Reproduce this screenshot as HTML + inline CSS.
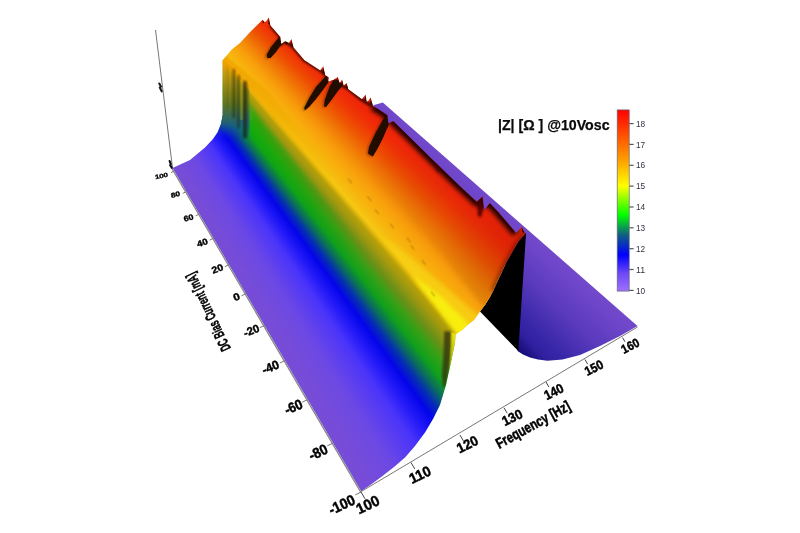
<!DOCTYPE html><html><head><meta charset="utf-8"><title>Impedance surface</title><style>html,body{margin:0;padding:0;background:#fff}#plot{position:relative;width:800px;height:533px;overflow:hidden;background:#fff}#plot>svg,#plot>.fan{position:absolute;left:0;top:0;width:800px;height:533px;display:block}</style></head><body><div id="plot"><svg width="800" height="533" viewBox="0 0 800 533">
<defs><linearGradient id="floorR" gradientUnits="userSpaceOnUse" x1="600" y1="250" x2="515" y2="355"><stop offset="0" stop-color="#7349cb"/><stop offset="0.55" stop-color="#6a44c6"/><stop offset="0.85" stop-color="#4a30b8"/><stop offset="1" stop-color="#2a1c9c"/></linearGradient></defs>
<rect width="800" height="533" fill="#fff"/>
</svg>
<div class="fan" style="clip-path:polygon(373.3px 105.2px, 382.8px 102.6px, 637.5px 326.0px, 620.0px 336.0px, 600.0px 346.0px, 580.0px 355.0px, 562.5px 359.5px, 547.5px 360.8px, 538.0px 359.5px, 530.0px 357.5px, 523.0px 354.5px, 517.5px 351.0px, 519.0px 300.0px, 500.0px 250.0px, 420.0px 170.0px, 380.0px 120.0px);background:conic-gradient(from 0deg at -127px -345px, #7349cb 128.660deg, #7349cb 131.257deg, #6e46c9 131.900deg, #5a3abd 133.603deg, #452eb0 134.829deg, #3826a8 135.579deg, #3020a0 136.289deg, #22168a 136.680deg, #180e78 137.077deg, #120a68 138.013deg)"></div><svg width="800" height="533" viewBox="0 0 800 533"><polygon points="480.0,311.5 485.0,305.0 490.0,297.0 493.5,290.0 506.0,263.0 518.0,242.0 525.2,233.0 526.0,234.0 518.3,351.0" fill="#000"/></svg>
<div class="fan" style="clip-path:polygon(172.5px 168.0px, 190.0px 160.0px, 205.0px 147.5px, 213.0px 139.0px, 217.5px 132.5px, 221.0px 124.0px, 222.7px 115.0px, 222.7px 60.2px, 232.0px 49.2px, 240.0px 43.0px, 250.2px 32.0px, 262.6px 19.7px, 264.5px 22.0px, 266.0px 21.5px, 268.8px 17.4px, 270.4px 25.5px, 280.3px 37.0px, 281.0px 44.0px, 285.3px 41.2px, 289.0px 43.0px, 291.4px 39.0px, 293.5px 47.4px, 304.4px 60.2px, 320.3px 70.4px, 323.2px 66.2px, 325.2px 75.3px, 328.5px 77.3px, 328.5px 81.5px, 333.4px 80.1px, 337.8px 76.9px, 339.6px 83.2px, 342.1px 79.4px, 343.6px 85.7px, 346.6px 83.0px, 348.3px 89.3px, 362.0px 99.2px, 365.5px 94.4px, 366.6px 101.3px, 368.0px 101.6px, 370.6px 97.4px, 373.0px 106.0px, 378.4px 109.2px, 387.4px 115.3px, 388.4px 123.3px, 393.4px 121.3px, 410.5px 138.0px, 434.1px 161.2px, 460.0px 186.2px, 476.9px 201.9px, 482.5px 196.3px, 484.2px 209.8px, 489.8px 203.0px, 498.2px 212.0px, 516.2px 232.9px, 521.9px 226.7px, 525.2px 234.0px, 518.0px 242.0px, 506.0px 263.0px, 493.5px 290.0px, 490.0px 297.0px, 485.0px 305.0px, 480.0px 311.5px, 474.0px 320.0px, 468.0px 324.5px, 462.0px 330.0px, 457.0px 333.2px, 455.5px 335.0px, 455.0px 343.0px, 451.0px 362.0px, 446.0px 385.0px, 440.0px 405.0px, 433.0px 419.0px, 425.0px 432.5px, 415.0px 446.0px, 405.0px 457.5px, 394.0px 467.0px, 382.5px 476.0px, 371.0px 484.5px, 361.2px 491.2px);background:conic-gradient(from 0deg at -127px -345px, #f02008 130.764deg, #f02608 132.797deg, #f03206 133.494deg, #ee5002 134.545deg, #f07606 135.637deg, #f48c08 136.319deg, #f8a00c 137.046deg, #f8b00c 137.855deg, #f6bc10 138.459deg, #f6c812 138.912deg, #e2b80e 139.107deg, #b8a008 139.370deg, #a09810 139.846deg, #6a9018 140.556deg, #36a016 141.166deg, #10a01c 141.904deg, #0a6c60 142.548deg, #0530b0 143.130deg, #0404ea 143.759deg, #2018f8 144.549deg, #4a34fa 145.511deg, #6c48e4 147.381deg, #764cd8 149.036deg, #784fd6 150.751deg)"></div>
<svg width="800" height="533" viewBox="0 0 800 533">
<defs>
<clipPath id="surf"><polygon points="172.5,168.0 190.0,160.0 205.0,147.5 213.0,139.0 217.5,132.5 221.0,124.0 222.7,115.0 222.7,60.2 232.0,49.2 240.0,43.0 250.2,32.0 262.6,19.7 264.5,22.0 266.0,21.5 268.8,17.4 270.4,25.5 280.3,37.0 281.0,44.0 285.3,41.2 289.0,43.0 291.4,39.0 293.5,47.4 304.4,60.2 320.3,70.4 323.2,66.2 325.2,75.3 328.5,77.3 328.5,81.5 333.4,80.1 337.8,76.9 339.6,83.2 342.1,79.4 343.6,85.7 346.6,83.0 348.3,89.3 362.0,99.2 365.5,94.4 366.6,101.3 368.0,101.6 370.6,97.4 373.0,106.0 378.4,109.2 387.4,115.3 388.4,123.3 393.4,121.3 410.5,138.0 434.1,161.2 460.0,186.2 476.9,201.9 482.5,196.3 484.2,209.8 489.8,203.0 498.2,212.0 516.2,232.9 521.9,226.7 525.2,234.0 518.0,242.0 506.0,263.0 493.5,290.0 490.0,297.0 485.0,305.0 480.0,311.5 474.0,320.0 468.0,324.5 462.0,330.0 457.0,333.2 455.5,335.0 455.0,343.0 451.0,362.0 446.0,385.0 440.0,405.0 433.0,419.0 425.0,432.5 415.0,446.0 405.0,457.5 394.0,467.0 382.5,476.0 371.0,484.5 361.2,491.2"/></clipPath>
<linearGradient id="cbar" x1="0" y1="1" x2="0" y2="0">
<stop offset="0" stop-color="#a070ff"/>
<stop offset="0.1" stop-color="#6a48f4"/>
<stop offset="0.2" stop-color="#0000ff"/>
<stop offset="0.31" stop-color="#106080"/>
<stop offset="0.42" stop-color="#00ff00"/>
<stop offset="0.58" stop-color="#ffff00"/>
<stop offset="0.72" stop-color="#ffa000"/>
<stop offset="1" stop-color="#ff0000"/>
</linearGradient>
<linearGradient id="wall" gradientUnits="userSpaceOnUse" x1="0" y1="60" x2="0" y2="140"><stop offset="0" stop-color="#eca408"/><stop offset="0.18" stop-color="#c09810"/><stop offset="0.38" stop-color="#8a8414"/><stop offset="0.56" stop-color="#5c7424"/><stop offset="0.72" stop-color="#30685a"/><stop offset="0.85" stop-color="#185890"/><stop offset="1" stop-color="#1018e8"/></linearGradient>
<linearGradient id="frontdark" gradientUnits="userSpaceOnUse" x1="390" y1="125" x2="515" y2="245"><stop offset="0" stop-color="#400000" stop-opacity="0"/><stop offset="0.5" stop-color="#400000" stop-opacity="0.04"/><stop offset="1" stop-color="#400000" stop-opacity="0.1"/></linearGradient>
<linearGradient id="tint" gradientUnits="userSpaceOnUse" x1="240" y1="65" x2="345" y2="195"><stop offset="0" stop-color="#f0a008" stop-opacity="0.8"/><stop offset="0.35" stop-color="#f0a808" stop-opacity="0.65"/><stop offset="1" stop-color="#f4b80c" stop-opacity="0"/></linearGradient>
<linearGradient id="gtint" gradientUnits="userSpaceOnUse" x1="245" y1="100" x2="360" y2="265"><stop offset="0" stop-color="#0cb40c" stop-opacity="0.6"/><stop offset="0.4" stop-color="#0cb00c" stop-opacity="0.4"/><stop offset="1" stop-color="#10a010" stop-opacity="0"/></linearGradient>
<linearGradient id="ffrontg" gradientUnits="userSpaceOnUse" x1="0" y1="333" x2="0" y2="400"><stop offset="0" stop-color="#f0ec10"/><stop offset="0.35" stop-color="#c8cc10"/><stop offset="0.7" stop-color="#80a818"/><stop offset="1" stop-color="#30a020"/></linearGradient>
<linearGradient id="wallfade" gradientUnits="userSpaceOnUse" x1="0" y1="122" x2="0" y2="140"><stop offset="0" stop-color="#fff"/><stop offset="1" stop-color="#000"/></linearGradient>
<mask id="wm"><rect x="200" y="40" width="70" height="120" fill="url(#wallfade)"/></mask>
<filter id="b1" x="-20%" y="-20%" width="140%" height="140%"><feGaussianBlur stdDeviation="1"/></filter>
<filter id="b2" x="-20%" y="-20%" width="140%" height="140%"><feGaussianBlur stdDeviation="2"/></filter>
<filter id="b05" x="-20%" y="-20%" width="140%" height="140%"><feGaussianBlur stdDeviation="0.6"/></filter>
</defs>
<g clip-path="url(#surf)">
<polygon points="212.7,85.0 234.2,85.0 380.4,270.0 355.8,270.0" fill="url(#gtint)" filter="url(#b2)"/>
<g mask="url(#wm)"><polygon points="222,60.2 233.6,68.4 238.5,74.3 244.4,80.2 249.3,84.4 249.6,142 210,148 222,115" fill="url(#wall)" filter="url(#b05)"/></g>
<polygon points="220.0,62.0 224.0,54.0 266.7,90.0 318.5,150.0 358.1,200.0 342.8,200.0 299.7,150.0 249.7,90.0" fill="url(#tint)" filter="url(#b1)"/>
<rect x="232.4" y="69.0" width="3.0" height="49.0" fill="#181400" opacity="0.42" filter="url(#b1)"/>
<rect x="237.4" y="75.0" width="2.2" height="53.0" fill="#181400" opacity="0.50" filter="url(#b1)"/>
<rect x="243.3" y="81.0" width="3.5" height="57.0" fill="#181400" opacity="0.62" filter="url(#b1)"/>
<rect x="227.0" y="66.0" width="1.5" height="44.0" fill="#181400" opacity="0.15" filter="url(#b1)"/>
<rect x="239.8" y="80" width="3.2" height="40" fill="#c8c020" opacity="0.22" filter="url(#b05)"/>
<polygon points="379.9,235.0 432.9,300.0 470.7,350.0 504.8,338.0 472.3,310.0 437.4,280.0 401.4,250.0" fill="#f8d414" opacity="0.7" filter="url(#b2)"/>
<polygon points="411.2,275.0 464.3,345.0 474.7,345.0 466.6,322.0 439.4,295.0" fill="#f8f60a" opacity="0.8" filter="url(#b2)"/>
<ellipse cx="369.4" cy="198.7" rx="1.2" ry="3.4" transform="rotate(-40 369.4 198.7)" fill="#8a6400" opacity="0.26" filter="url(#b05)"/>
<ellipse cx="376.9" cy="211.9" rx="1.2" ry="3.4" transform="rotate(-40 376.9 211.9)" fill="#8a6400" opacity="0.26" filter="url(#b05)"/>
<ellipse cx="408.7" cy="240.0" rx="1.2" ry="3.4" transform="rotate(-40 408.7 240.0)" fill="#8a6400" opacity="0.26" filter="url(#b05)"/>
<ellipse cx="412.5" cy="247.5" rx="1.2" ry="3.4" transform="rotate(-40 412.5 247.5)" fill="#8a6400" opacity="0.26" filter="url(#b05)"/>
<ellipse cx="423.7" cy="262.5" rx="1.2" ry="3.4" transform="rotate(-40 423.7 262.5)" fill="#8a6400" opacity="0.26" filter="url(#b05)"/>
<ellipse cx="433.0" cy="294.0" rx="1.2" ry="3.4" transform="rotate(-40 433.0 294.0)" fill="#8a6400" opacity="0.26" filter="url(#b05)"/>
<ellipse cx="350.0" cy="181.0" rx="1.2" ry="3.4" transform="rotate(-40 350.0 181.0)" fill="#8a6400" opacity="0.26" filter="url(#b05)"/>
<ellipse cx="392.0" cy="226.0" rx="1.2" ry="3.4" transform="rotate(-40 392.0 226.0)" fill="#8a6400" opacity="0.26" filter="url(#b05)"/>
<polyline points="372.7,106.5 378.4,109.2 387.4,115.3 393.4,121.3 410.5,138.0 434.1,161.2 460.0,186.2 476.9,201.9 489.8,203.0 498.2,212.0 516.2,232.9" fill="none" stroke="#140000" stroke-width="9" opacity="0.95" filter="url(#b2)"/>
<polyline points="270.2,25.0 280.3,37.0 281.0,44.0 285.3,41.2 293.3,47.2 304.4,60.2 320.4,70.3 328.5,77.3 348.6,89.0 360.5,98.8 372.7,106.5" fill="none" stroke="#280400" stroke-width="3.4" opacity="0.8" filter="url(#b1)"/>
<polygon points="319.4,120.0 431.0,120.0 647.0,300.0 500.8,330.0 438.2,250.0" fill="url(#frontdark)" filter="url(#b2)"/>
<polyline points="525,234 518,244 506,265 494,291" fill="none" stroke="#400800" stroke-width="6" opacity="0.5" filter="url(#b2)"/>
<polygon points="279.3,37.0 281.8,43.8 276.0,52.0 270.5,58.0 267.3,58.0 266.8,54.5 271.0,47.0" fill="#240a00" filter="url(#b05)"/>
<polygon points="279.3,37.0 281.8,43.8 276.0,52.0 270.5,58.0 267.3,58.0 266.8,54.5 271.0,47.0" fill="#240a00" opacity="0.35" transform="translate(-1.6,0.8)" filter="url(#b1)"/>
<polygon points="326.3,75.5 328.6,82.0 322.5,90.5 316.0,99.0 309.5,106.5 304.8,110.5 304.4,107.5 309.5,97.5 316.0,87.0" fill="#240a00" filter="url(#b05)"/>
<polygon points="326.3,75.5 328.6,82.0 322.5,90.5 316.0,99.0 309.5,106.5 304.8,110.5 304.4,107.5 309.5,97.5 316.0,87.0" fill="#240a00" opacity="0.35" transform="translate(-1.6,0.8)" filter="url(#b1)"/>
<polygon points="333.2,81.0 337.0,79.8 342.8,85.5 337.5,91.5 331.5,100.0 326.0,107.0 324.0,106.5 324.8,100.0 328.0,91.0 330.0,86.0" fill="#240a00" filter="url(#b05)"/>
<polygon points="333.2,81.0 337.0,79.8 342.8,85.5 337.5,91.5 331.5,100.0 326.0,107.0 324.0,106.5 324.8,100.0 328.0,91.0 330.0,86.0" fill="#240a00" opacity="0.35" transform="translate(-1.6,0.8)" filter="url(#b1)"/>
<polygon points="385.8,114.5 388.9,124.5 382.5,139.0 376.5,150.5 372.8,156.5 368.0,153.5 369.0,147.0 375.5,133.0" fill="#240a00" filter="url(#b05)"/>
<polygon points="385.8,114.5 388.9,124.5 382.5,139.0 376.5,150.5 372.8,156.5 368.0,153.5 369.0,147.0 375.5,133.0" fill="#240a00" opacity="0.35" transform="translate(-1.6,0.8)" filter="url(#b1)"/>
<polygon points="262.6,19.7 264.5,22.0 262.8,23.5" fill="#200800" opacity="0.9"/>
<polygon points="268.8,17.4 270.4,25.5 268.2,23.5" fill="#200800" opacity="0.9"/>
<polygon points="285.3,41.2 288.5,43.5 286.0,45.0" fill="#200800" opacity="0.9"/>
<polygon points="291.4,39.0 293.5,47.4 291.2,45.0" fill="#200800" opacity="0.9"/>
<polygon points="323.2,66.2 325.2,75.3 322.8,72.5" fill="#200800" opacity="0.9"/>
<polygon points="337.8,76.9 339.6,83.2 337.2,81.5" fill="#200800" opacity="0.9"/>
<polygon points="342.1,79.4 343.6,85.7 341.6,84.0" fill="#200800" opacity="0.9"/>
<polygon points="346.6,83.0 348.3,89.3 346.2,87.5" fill="#200800" opacity="0.9"/>
<polygon points="365.5,94.4 366.6,101.3 364.6,100.2" fill="#200800" opacity="0.9"/>
<polygon points="370.6,97.4 373.0,106.0 370.4,103.2" fill="#200800" opacity="0.9"/>
<polygon points="482.5,196.3 483.8,209.0 482.0,205.0" fill="#200800" opacity="0.9"/>
<polygon points="521.9,226.7 525.2,234.0 522.2,232.0" fill="#200800" opacity="0.9"/>
<polygon points="475.5,201.5 482.5,196.8 483.6,209 480.8,217.5 477.6,215.5 477.5,207" fill="#4a0600" opacity="0.85" filter="url(#b1)"/>
<polygon points="433.5,161.5 438,160.5 440.5,168 438.5,173 436.5,171" fill="#4a0600" opacity="0.6" filter="url(#b1)"/>
<polygon points="450.5,332 456.2,334 456,343 453.4,357 450.8,372 449.2,372 449.6,357 450.4,343" fill="url(#ffrontg)" opacity="0.85" filter="url(#b05)"/>
<polygon points="444.2,331.3 451,331.5 450.7,345 450,357.5 447.8,376 445.4,387 443,387 441.9,376 443.2,357.5 443.9,345" fill="#36360a" opacity="0.8" filter="url(#b1)"/>
</g>
<polygon points="482.8,197 484.2,209.8 489.8,203 486,199.5" fill="#7349cb"/>
<line x1="171.9" y1="168.4" x2="360.6" y2="491.9" stroke="#868686" stroke-width="1.3"/>
<line x1="361.25" y1="491.5" x2="637.5" y2="327" stroke="#686868" stroke-width="0.9" fill="none"/>
<line x1="155.5" y1="30" x2="172.5" y2="168" stroke="#686868" stroke-width="0.9" fill="none"/>
<path d="M159.3,83.5 l1.6,3 l-1,1.2 l1.8,3.6" stroke="#1a1a1a" stroke-width="2.1" stroke-linecap="round" fill="none"/>
<path d="M169.6,161 l1.2,3.2 l-0.6,1 l1.6,2.6" stroke="#111" stroke-width="2.1" stroke-linecap="round" fill="none"/>
<text transform="translate(161.5,175.8) rotate(-13.0) scale(0.920,0.700)" font-family="Liberation Sans, Arial, sans-serif" font-weight="bold" font-size="8.6" text-anchor="middle" dominant-baseline="central" fill="#000" stroke="#000" stroke-width="0.45">100</text>
<text transform="translate(175.5,194.7) rotate(-14.0) scale(0.920,0.740)" font-family="Liberation Sans, Arial, sans-serif" font-weight="bold" font-size="9.2" text-anchor="middle" dominant-baseline="central" fill="#000" stroke="#000" stroke-width="0.45">80</text>
<text transform="translate(188.6,217.8) rotate(-16.0) scale(0.920,0.800)" font-family="Liberation Sans, Arial, sans-serif" font-weight="bold" font-size="9.8" text-anchor="middle" dominant-baseline="central" fill="#000" stroke="#000" stroke-width="0.45">60</text>
<text transform="translate(202.3,242.8) rotate(-18.0) scale(0.950,0.840)" font-family="Liberation Sans, Arial, sans-serif" font-weight="bold" font-size="10.4" text-anchor="middle" dominant-baseline="central" fill="#000" stroke="#000" stroke-width="0.45">40</text>
<text transform="translate(217.3,268.6) rotate(-20.0) scale(0.960,0.860)" font-family="Liberation Sans, Arial, sans-serif" font-weight="bold" font-size="11.0" text-anchor="middle" dominant-baseline="central" fill="#000" stroke="#000" stroke-width="0.45">20</text>
<text transform="translate(236.4,296.7) rotate(-21.0) scale(1.000,0.870)" font-family="Liberation Sans, Arial, sans-serif" font-weight="bold" font-size="11.6" text-anchor="middle" dominant-baseline="central" fill="#000" stroke="#000" stroke-width="0.45">0</text>
<text transform="translate(251.3,330.5) rotate(-22.0) scale(0.920,0.900)" font-family="Liberation Sans, Arial, sans-serif" font-weight="bold" font-size="12.4" text-anchor="middle" dominant-baseline="central" fill="#000" stroke="#000" stroke-width="0.45">-20</text>
<text transform="translate(270.5,367.4) rotate(-23.0) scale(0.920,0.940)" font-family="Liberation Sans, Arial, sans-serif" font-weight="bold" font-size="13.2" text-anchor="middle" dominant-baseline="central" fill="#000" stroke="#000" stroke-width="0.45">-40</text>
<text transform="translate(293.5,407.0) rotate(-24.0) scale(0.920,1.000)" font-family="Liberation Sans, Arial, sans-serif" font-weight="bold" font-size="14.0" text-anchor="middle" dominant-baseline="central" fill="#000" stroke="#000" stroke-width="0.45">-60</text>
<text transform="translate(318.0,452.0) rotate(-25.0) scale(0.920,1.000)" font-family="Liberation Sans, Arial, sans-serif" font-weight="bold" font-size="14.6" text-anchor="middle" dominant-baseline="central" fill="#000" stroke="#000" stroke-width="0.45">-80</text>
<text transform="translate(341.7,504.7) rotate(-25.0) scale(0.920,1.000)" font-family="Liberation Sans, Arial, sans-serif" font-weight="bold" font-size="15.0" text-anchor="middle" dominant-baseline="central" fill="#000" stroke="#000" stroke-width="0.45">-100</text>
<line x1="174.2" y1="171.0" x2="171.0" y2="172.6" stroke="#777" stroke-width="1"/>
<line x1="186.3" y1="191.7" x2="182.8" y2="193.3" stroke="#777" stroke-width="1"/>
<line x1="199.3" y1="214.0" x2="195.7" y2="215.8" stroke="#777" stroke-width="1"/>
<line x1="213.5" y1="238.3" x2="209.6" y2="240.1" stroke="#777" stroke-width="1"/>
<line x1="228.9" y1="264.7" x2="224.8" y2="266.7" stroke="#777" stroke-width="1"/>
<line x1="245.8" y1="293.7" x2="241.5" y2="295.8" stroke="#777" stroke-width="1"/>
<line x1="264.4" y1="325.5" x2="259.8" y2="327.7" stroke="#777" stroke-width="1"/>
<line x1="284.9" y1="360.6" x2="279.9" y2="363.0" stroke="#777" stroke-width="1"/>
<line x1="307.6" y1="399.6" x2="302.3" y2="402.1" stroke="#777" stroke-width="1"/>
<line x1="333.0" y1="443.1" x2="327.3" y2="445.8" stroke="#777" stroke-width="1"/>
<line x1="361.5" y1="491.9" x2="355.4" y2="494.8" stroke="#777" stroke-width="1"/>
<text transform="translate(367.8,504.7) rotate(-25.0) scale(0.970,1.000)" font-family="Liberation Sans, Arial, sans-serif" font-weight="bold" font-size="15.0" text-anchor="middle" dominant-baseline="central" fill="#000" stroke="#000" stroke-width="0.45">100</text>
<line x1="361.0" y1="491.9" x2="365.0" y2="498.8" stroke="#444" stroke-width="1"/>
<text transform="translate(420.0,474.5) rotate(-25.4) scale(0.956,1.000)" font-family="Liberation Sans, Arial, sans-serif" font-weight="bold" font-size="14.5" text-anchor="middle" dominant-baseline="central" fill="#000" stroke="#000" stroke-width="0.45">110</text>
<line x1="411.0" y1="462.5" x2="414.7" y2="468.9" stroke="#444" stroke-width="1"/>
<text transform="translate(467.5,444.5) rotate(-25.8) scale(0.944,1.000)" font-family="Liberation Sans, Arial, sans-serif" font-weight="bold" font-size="14.0" text-anchor="middle" dominant-baseline="central" fill="#000" stroke="#000" stroke-width="0.45">120</text>
<line x1="460.0" y1="435.0" x2="463.4" y2="440.9" stroke="#444" stroke-width="1"/>
<text transform="translate(512.2,417.5) rotate(-26.1) scale(0.932,1.000)" font-family="Liberation Sans, Arial, sans-serif" font-weight="bold" font-size="13.6" text-anchor="middle" dominant-baseline="central" fill="#000" stroke="#000" stroke-width="0.45">130</text>
<line x1="504.0" y1="407.8" x2="507.2" y2="413.2" stroke="#444" stroke-width="1"/>
<text transform="translate(553.9,392.0) rotate(-26.4) scale(0.920,1.000)" font-family="Liberation Sans, Arial, sans-serif" font-weight="bold" font-size="13.2" text-anchor="middle" dominant-baseline="central" fill="#000" stroke="#000" stroke-width="0.45">140</text>
<line x1="546.0" y1="382.0" x2="548.9" y2="387.1" stroke="#444" stroke-width="1"/>
<text transform="translate(594.0,368.0) rotate(-26.7) scale(0.910,1.000)" font-family="Liberation Sans, Arial, sans-serif" font-weight="bold" font-size="12.8" text-anchor="middle" dominant-baseline="central" fill="#000" stroke="#000" stroke-width="0.45">150</text>
<line x1="585.0" y1="359.5" x2="587.7" y2="364.2" stroke="#444" stroke-width="1"/>
<text transform="translate(630.0,345.5) rotate(-27.0) scale(0.900,1.000)" font-family="Liberation Sans, Arial, sans-serif" font-weight="bold" font-size="12.4" text-anchor="middle" dominant-baseline="central" fill="#000" stroke="#000" stroke-width="0.45">160</text>
<line x1="622.5" y1="337.5" x2="625.0" y2="341.8" stroke="#444" stroke-width="1"/>
<text transform="translate(533,424.6) rotate(-28.8) scale(0.775,1)" font-family="Liberation Sans, Arial, sans-serif" font-weight="bold" font-size="14.8" text-anchor="middle" dominant-baseline="central" fill="#000" stroke="#000" stroke-width="0.5">Frequency [Hz]</text>
<text transform="matrix(-0.2976 -0.6244 1.1000 -0.5300 231 348.3)" font-family="Liberation Sans, Arial, sans-serif" font-weight="bold" font-size="12" fill="#000" stroke="#000" stroke-width="0.4" textLength="123" lengthAdjust="spacingAndGlyphs">DC Bias Current [mA]</text>
<rect x="617.2" y="109.9" width="12" height="181.2" fill="url(#cbar)" stroke="#667" stroke-width="0.7"/>
<line x1="629.4" y1="290.4" x2="633.6" y2="290.4" stroke="#555" stroke-width="1.2"/>
<text x="636" y="293.5" font-family="Liberation Sans, Arial, sans-serif" font-size="9" fill="#334" textLength="9.2" lengthAdjust="spacingAndGlyphs">10</text>
<line x1="629.4" y1="269.5" x2="633.6" y2="269.5" stroke="#555" stroke-width="1.2"/>
<text x="636" y="272.6" font-family="Liberation Sans, Arial, sans-serif" font-size="9" fill="#334" textLength="9.2" lengthAdjust="spacingAndGlyphs">11</text>
<line x1="629.4" y1="248.7" x2="633.6" y2="248.7" stroke="#555" stroke-width="1.2"/>
<text x="636" y="251.8" font-family="Liberation Sans, Arial, sans-serif" font-size="9" fill="#334" textLength="9.2" lengthAdjust="spacingAndGlyphs">12</text>
<line x1="629.4" y1="227.8" x2="633.6" y2="227.8" stroke="#555" stroke-width="1.2"/>
<text x="636" y="230.9" font-family="Liberation Sans, Arial, sans-serif" font-size="9" fill="#334" textLength="9.2" lengthAdjust="spacingAndGlyphs">13</text>
<line x1="629.4" y1="207.0" x2="633.6" y2="207.0" stroke="#555" stroke-width="1.2"/>
<text x="636" y="210.1" font-family="Liberation Sans, Arial, sans-serif" font-size="9" fill="#334" textLength="9.2" lengthAdjust="spacingAndGlyphs">14</text>
<line x1="629.4" y1="186.1" x2="633.6" y2="186.1" stroke="#555" stroke-width="1.2"/>
<text x="636" y="189.2" font-family="Liberation Sans, Arial, sans-serif" font-size="9" fill="#334" textLength="9.2" lengthAdjust="spacingAndGlyphs">15</text>
<line x1="629.4" y1="165.3" x2="633.6" y2="165.3" stroke="#555" stroke-width="1.2"/>
<text x="636" y="168.4" font-family="Liberation Sans, Arial, sans-serif" font-size="9" fill="#334" textLength="9.2" lengthAdjust="spacingAndGlyphs">16</text>
<line x1="629.4" y1="144.4" x2="633.6" y2="144.4" stroke="#555" stroke-width="1.2"/>
<text x="636" y="147.5" font-family="Liberation Sans, Arial, sans-serif" font-size="9" fill="#334" textLength="9.2" lengthAdjust="spacingAndGlyphs">17</text>
<line x1="629.4" y1="123.6" x2="633.6" y2="123.6" stroke="#555" stroke-width="1.2"/>
<text x="636" y="126.7" font-family="Liberation Sans, Arial, sans-serif" font-size="9" fill="#334" textLength="9.2" lengthAdjust="spacingAndGlyphs">18</text>
<text x="498" y="129.7" font-family="Liberation Sans, Arial, sans-serif" font-weight="bold" font-size="14" fill="#0a0a0a" stroke="#0a0a0a" stroke-width="0.25" textLength="111.5" lengthAdjust="spacingAndGlyphs">|Z| [Ω ] @10Vosc</text>
</svg></div></body></html>
